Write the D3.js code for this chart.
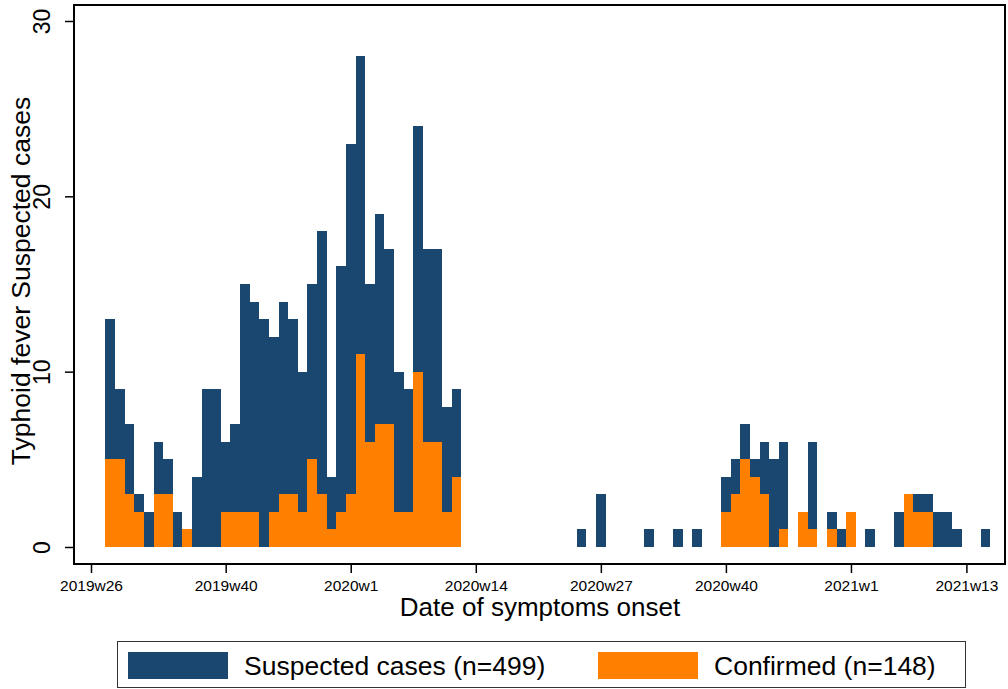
<!DOCTYPE html>
<html lang="en">
<head>
<meta charset="utf-8" />
<title>Typhoid fever · weekly cases</title>
<style>
html,body{margin:0;background:#fff}
svg{display:block;font-family:"Liberation Sans",Arial,sans-serif}
.tick line{stroke:#000;stroke-width:1.5px}
.bars rect{shape-rendering:crispEdges}
</style>
<script src="https://cdn.jsdelivr.net/npm/d3@7/dist/d3.min.js"></script>
</head>
<body>
<div id="chart"></div>

<script>
/* ----------------------------- data ----------------------------------- */
const weeks = [
  "2019w28","2019w29","2019w30","2019w31","2019w32","2019w33","2019w34","2019w35",
  "2019w36","2019w37","2019w38","2019w39","2019w40","2019w41","2019w42","2019w43",
  "2019w44","2019w45","2019w46","2019w47","2019w48","2019w49","2019w50","2019w51",
  "2019w52","2020w1","2020w2","2020w3","2020w4","2020w5","2020w6","2020w7",
  "2020w8","2020w9","2020w10","2020w11","2020w12",
  "2020w25","2020w27","2020w32","2020w35","2020w37",
  "2020w40","2020w41","2020w42","2020w43","2020w44","2020w45","2020w46",
  "2020w48","2020w49","2020w51","2020w52","2021w1","2021w3",
  "2021w6","2021w7","2021w8","2021w9","2021w10","2021w11","2021w12","2021w15"
];
const suspected = [
  13,9,7,3,2,6,5,2, 1,4,9,9,6,7,15,14, 13,12,14,13,10,15,18,4,
  16,23,28,15,19,17,10,9, 24,17,17,8,9,
  1,3,1,1,1,
  4,5,7,5,6,5,6, 2,6,2,1,2,1,
  2,3,3,3,2,2,1,1
];
const confirmed = [
  5,5,3,2,0,3,3,0, 1,0,0,0,2,2,2,2, 0,2,3,3,2,5,3,1,
  2,3,11,6,7,7,2,2, 10,6,6,2,4,
  0,0,0,0,0,
  2,3,5,4,3,0,1, 2,1,1,0,2,0,
  0,3,2,2,0,0,0,0
];
const xTickLabels = ["2019w26","2019w40","2020w1","2020w14","2020w27","2020w40","2021w1","2021w13"];
const yTicks = [0, 10, 20, 30];

/* --------------------------- layout ----------------------------------- */
const width = 1008, height = 689;
const frame = {left: 74, right: 1005, top: 5, bottom: 564};
const navy = "#1a476f", orange = "#ff7f00";

// Stata %tw: 52 weeks per year, index 0 = 2019w26
const weekIndex = s => {
  const [y, w] = s.split("w").map(Number);
  return (y - 2019) * 52 + w - 26;
};

const x = d3.scaleLinear().domain([0, 91]).range([91, 966.4]);
const y = d3.scaleLinear().domain([0, 30]).range([547, 21]);

const svg = d3.select("#chart").append("svg")
  .attr("width", width).attr("height", height)
  .attr("viewBox", [0, 0, width, height]);

svg.append("rect").attr("width", width).attr("height", height).attr("fill", "#fff");

const rows = weeks.map((w, i) => ({t: weekIndex(w), s: suspected[i], c: confirmed[i]}));

/* ---------------------------- bars ------------------------------------ */
const bars = svg.append("g").attr("class", "bars");
bars.selectAll("rect.s").data(rows.filter(d => d.s > 0)).join("rect")
  .attr("class", "s")
  .attr("x", d => x(d.t - 0.5))
  .attr("width", d => x(d.t + 0.5) - x(d.t - 0.5))
  .attr("y", d => y(d.s))
  .attr("height", d => y(0) - y(d.s))
  .attr("fill", navy);

bars.selectAll("rect.c").data(rows.filter(d => d.c > 0)).join("rect")
  .attr("class", "c")
  .attr("x", d => x(d.t - 0.5))
  .attr("width", d => x(d.t + 0.5) - x(d.t - 0.5))
  .attr("y", d => y(d.c))
  .attr("height", d => y(0) - y(d.c))
  .attr("fill", orange);

/* ---------------------------- axes ------------------------------------ */
const xAxis = svg.append("g")
  .attr("transform", `translate(0,${frame.bottom})`)
  .call(d3.axisBottom(x)
    .tickValues(xTickLabels.map(weekIndex))
    .tickFormat((d, i) => xTickLabels[i])
    .tickSize(9).tickPadding(7));
xAxis.select(".domain").remove();
xAxis.selectAll("text").attr("fill", "#000").style("font-size", "15.5px");

const yAxis = svg.append("g")
  .attr("transform", `translate(${frame.left},0)`)
  .call(d3.axisLeft(y).tickValues(yTicks).tickSize(9));
yAxis.select(".domain").remove();
yAxis.selectAll("text")
  .attr("x", null).attr("dy", null)
  .attr("text-anchor", "middle")
  .attr("transform", "translate(-24,0) rotate(-90)")
  .attr("fill", "#000")
  .style("font-size", "23px");

svg.append("rect")
  .attr("x", frame.left).attr("y", frame.top)
  .attr("width", frame.right - frame.left)
  .attr("height", frame.bottom - frame.top)
  .attr("fill", "none").attr("stroke", "#000").attr("stroke-width", 2);

/* --------------------------- titles ----------------------------------- */
svg.append("text")
  .attr("x", 540).attr("y", 616)
  .attr("text-anchor", "middle")
  .style("font-size", "26px")
  .text("Date of symptoms onset");

svg.append("text")
  .attr("transform", "translate(30,281) rotate(-90)")
  .attr("text-anchor", "middle")
  .style("font-size", "26.5px")
  .text("Typhoid fever Suspected cases");

/* --------------------------- legend ----------------------------------- */
const legend = svg.append("g");
legend.append("rect")
  .attr("x", 117.5).attr("y", 641.5).attr("width", 848).attr("height", 46)
  .attr("fill", "#fff").attr("stroke", "#333").attr("stroke-width", 1);

const items = [
  {label: "Suspected cases (n=499)", color: navy, x: 128},
  {label: "Confirmed (n=148)", color: orange, x: 598}
];
items.forEach(it => {
  legend.append("rect")
    .attr("x", it.x).attr("y", 652).attr("width", 100).attr("height", 27)
    .attr("fill", it.color);
  legend.append("text")
    .attr("x", it.x + 116).attr("y", 675)
    .style("font-size", "26.5px")
    .text(it.label);
});
</script>
</body>
</html>
